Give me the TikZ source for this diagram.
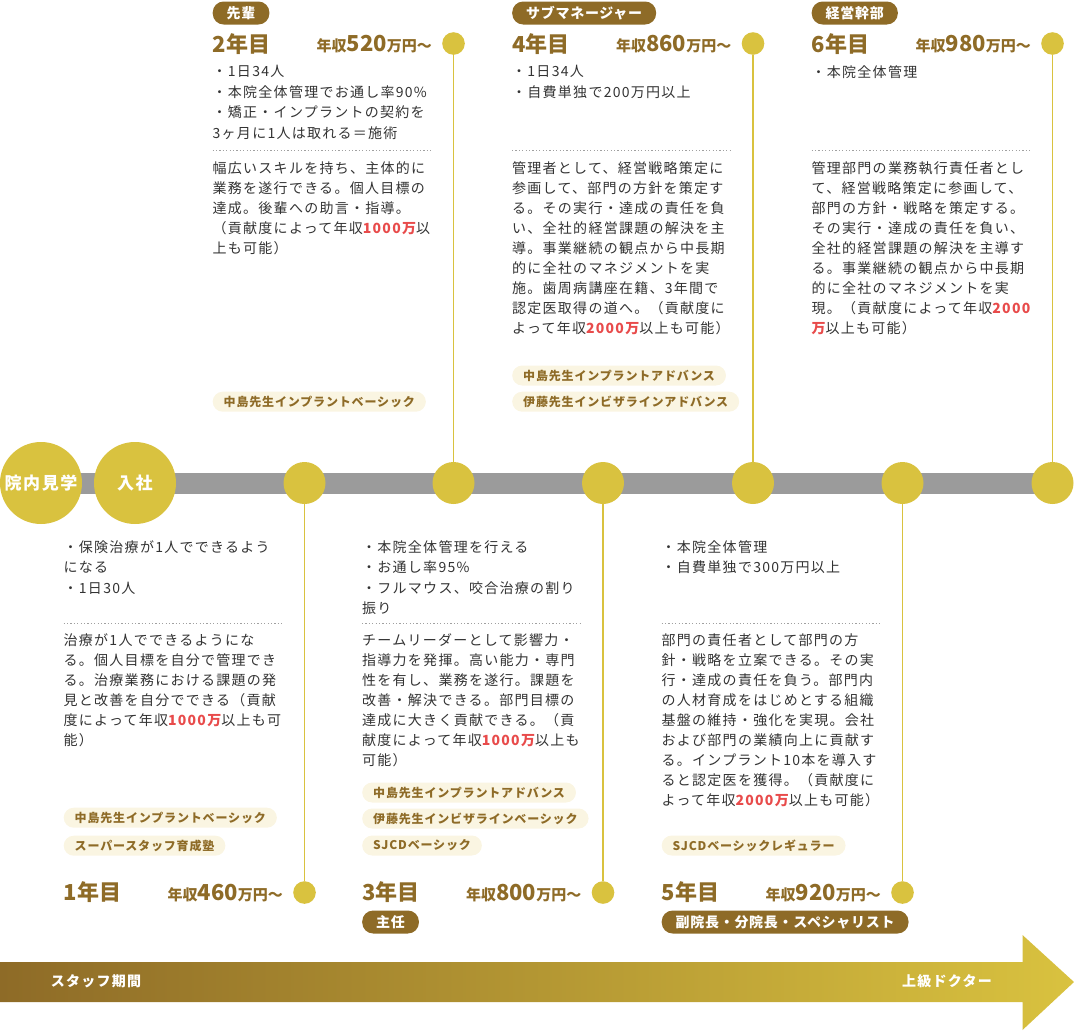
\documentclass[tikz,border=0pt]{standalone}
\usepackage{fontspec}
\setmainfont{Noto Sans CJK JP}[LetterSpace=9]
\newfontfamily\plainjp{Noto Sans CJK JP}
\newfontfamily\rolejp{Noto Sans CJK JP}[LetterSpace=5]
\newfontfamily\coursejp{Noto Sans CJK JP}[LetterSpace=7]
\usetikzlibrary{backgrounds}

\definecolor{goldc}{HTML}{D9C23F}
\definecolor{tagbrown}{HTML}{8E6B27}
\definecolor{creamc}{HTML}{FAF5E2}
\definecolor{inkc}{HTML}{333333}
\definecolor{redc}{HTML}{E84B4B}
\definecolor{trackc}{HTML}{9B9B9B}
\definecolor{rulec}{HTML}{A0A0A0}

\newcommand{\redtext}[1]{{\color{redc}\bfseries #1}}
\newcommand{\bignum}[1]{{\fontsize{22}{22}\selectfont #1}}

\begin{document}
\begin{tikzpicture}[x=1pt, y=-1pt,
  milestone/.style={circle, fill=goldc, minimum size=42pt, inner sep=0pt},
  bigstop/.style={circle, fill=goldc, minimum size=82pt, inner sep=0pt, text=white, font=\bfseries\fontsize{17}{17}\selectfont},
  smalldot/.style={circle, fill=goldc, minimum size=22.6pt, inner sep=0pt},
  stem/.style={goldc, line width=1.5pt},
  track/.style={trackc, line width=21pt},
  yearlabel/.style={anchor=west, inner sep=0pt, text=tagbrown, font=\plainjp\bfseries\fontsize{22}{22}\selectfont},
  salary/.style={anchor=east, inner sep=0pt, text=tagbrown, font=\plainjp\bfseries\fontsize{15}{15}\selectfont},
  rolebox/.style={anchor=west, fill=tagbrown, text=white, rounded corners=11pt, minimum height=23pt, inner xsep=14pt, inner ysep=0pt, font=\rolejp\bfseries\fontsize{14}{14}\selectfont},
  coursebox/.style={anchor=west, fill=creamc, text=tagbrown, rounded corners=10pt, minimum height=20pt, inner xsep=11pt, inner ysep=0pt, font=\coursejp\bfseries\fontsize{12}{12}\selectfont},
  points/.style={anchor=north west, inner sep=0pt, align=left, text=inkc, font=\fontsize{14}{20.5}\selectfont},
  detail/.style={anchor=north west, inner sep=0pt, align=left, text=inkc, font=\fontsize{14}{20}\selectfont},
  dotrule/.style={rulec, line width=1.2pt, dash pattern=on 1.2pt off 2.2pt},
  period/.style={text=white, inner sep=0pt, font=\bfseries\fontsize{14}{14}\selectfont}
]
\useasboundingbox (0,0) rectangle (1074,1031);

% timeline
\node[bigstop] (visit) at (41,483) {院内見学};
\node[bigstop] (join) at (135,483) {入社};
\node[milestone] (m1) at (304.5,483) {};
\node[milestone] (m2) at (453.5,483) {};
\node[milestone] (m3) at (603,483) {};
\node[milestone] (m4) at (753,483) {};
\node[milestone] (m5) at (902.5,483) {};
\node[milestone] (m6) at (1052.5,483) {};
\begin{pgfonlayer}{background}
\draw[track] (visit.center) -- (m6.center);
\end{pgfonlayer}

% upper columns
\node[smalldot] (d2) at (453.5,43.5) {};
\node[smalldot] (d4) at (753,43.5) {};
\node[smalldot] (d6) at (1052.5,43.5) {};
\draw[stem] (d2) -- (m2);
\draw[stem] (d4) -- (m4);
\draw[stem] (d6) -- (m6);

\node[rolebox] (r2) at (212.5,13) {先輩};
\node[rolebox] (r4) at (512,13) {サブマネージャー};
\node[rolebox] (r6) at (811.5,13) {経営幹部};

\node[yearlabel] (y2) at (212.5,44) {2年目};
\node[yearlabel] (y4) at (512,44) {4年目};
\node[yearlabel] (y6) at (811.5,44) {6年目};
\node[salary] (s2) at (432,44.5) {年収\bignum{520}万円～};
\node[salary] (s4) at (731.5,44.5) {年収\bignum{860}万円～};
\node[salary] (s6) at (1031,44.5) {年収\bignum{980}万円～};

\node[points] (p2) at (212.5,65) {・1日34人\\・本院全体管理でお通し率90\%\\・矯正・インプラントの契約を\\3ヶ月に1人は取れる＝施術};
\node[points] (p4) at (512,65) {・1日34人\\・自費単独で200万円以上};
\node[points] (p6) at (811.5,65) {・本院全体管理};

\draw[dotrule] (212.5,150.7) -- (432,150.7);
\draw[dotrule] (512,150.7) -- (731.5,150.7);
\draw[dotrule] (811.5,150.7) -- (1031,150.7);

\node[detail] (t2) at (212.5,161.5) {幅広いスキルを持ち、主体的に\\業務を遂行できる。個人目標の\\達成。後輩への助言・指導。\\（貢献度によって年収\redtext{1000万}以\\上も可能）};
\node[detail] (t4) at (512,161.5) {管理者として、経営戦略策定に\\参画して、部門の方針を策定す\\る。その実行・達成の責任を負\\い、全社的経営課題の解決を主\\導。事業継続の観点から中長期\\的に全社のマネジメントを実\\施。歯周病講座在籍、3年間で\\認定医取得の道へ。（貢献度に\\よって年収\redtext{2000万}以上も可能）};
\node[detail] (t6) at (811.5,161.5) {管理部門の業務執行責任者とし\\て、経営戦略策定に参画して、\\部門の方針・戦略を策定する。\\その実行・達成の責任を負い、\\全社的経営課題の解決を主導す\\る。事業継続の観点から中長期\\的に全社のマネジメントを実\\現。（貢献度によって年収\redtext{2000}\\\redtext{万}以上も可能）};

\node[coursebox] (c2a) at (212.5,401.7) {中島先生インプラントベーシック};
\node[coursebox] (c4a) at (512,375.5) {中島先生インプラントアドバンス};
\node[coursebox] (c4b) at (512,401.7) {伊藤先生インビザラインアドバンス};

% lower columns
\node[smalldot] (d1) at (304.5,892.5) {};
\node[smalldot] (d3) at (603,892.5) {};
\node[smalldot] (d5) at (902.5,892.5) {};
\draw[stem] (m1) -- (d1);
\draw[stem] (m3) -- (d3);
\draw[stem] (m5) -- (d5);

\node[points] (p1) at (63.5,540) {・保険治療が1人でできるよう\\になる\\・1日30人};
\node[points] (p3) at (362,540) {・本院全体管理を行える\\・お通し率95\%\\・フルマウス、咬合治療の割り\\振り};
\node[points] (p5) at (661.5,540) {・本院全体管理\\・自費単独で300万円以上};

\draw[dotrule] (63.5,623.3) -- (283,623.3);
\draw[dotrule] (362,623.3) -- (581.5,623.3);
\draw[dotrule] (661.5,623.3) -- (881,623.3);

\node[detail] (t1) at (63.5,633) {治療が1人でできるようにな\\る。個人目標を自分で管理でき\\る。治療業務における課題の発\\見と改善を自分でできる（貢献\\度によって年収\redtext{1000万}以上も可\\能）};
\node[detail] (t3) at (362,633) {チームリーダーとして影響力・\\指導力を発揮。高い能力・専門\\性を有し、業務を遂行。課題を\\改善・解決できる。部門目標の\\達成に大きく貢献できる。（貢\\献度によって年収\redtext{1000万}以上も\\可能）};
\node[detail] (t5) at (661.5,633) {部門の責任者として部門の方\\針・戦略を立案できる。その実\\行・達成の責任を負う。部門内\\の人材育成をはじめとする組織\\基盤の維持・強化を実現。会社\\および部門の業績向上に貢献す\\る。インプラント10本を導入す\\ると認定医を獲得。（貢献度に\\よって年収\redtext{2000万}以上も可能）};

\node[coursebox] (c1a) at (63.5,817.7) {中島先生インプラントベーシック};
\node[coursebox] (c1b) at (63.5,845.7) {スーパースタッフ育成塾};
\node[coursebox] (c3a) at (362,792.5) {中島先生インプラントアドバンス};
\node[coursebox] (c3b) at (362,818.5) {伊藤先生インビザラインベーシック};
\node[coursebox] (c3c) at (362,845.5) {SJCDベーシック};
\node[coursebox] (c5a) at (661.5,845.5) {SJCDベーシックレギュラー};

\node[yearlabel] (y1) at (63.5,892) {1年目};
\node[yearlabel] (y3) at (362,892) {3年目};
\node[yearlabel] (y5) at (661.5,892) {5年目};
\node[salary] (s1) at (283,893) {年収\bignum{460}万円～};
\node[salary] (s3) at (581.5,893) {年収\bignum{800}万円～};
\node[salary] (s5) at (881,893) {年収\bignum{920}万円～};

\node[rolebox] (r3) at (362,922) {主任};
\node[rolebox] (r5) at (661.5,922) {副院長・分院長・スペシャリスト};

% career arrow
\shade[left color=tagbrown, right color=goldc] (0,962) -- (1022.5,962) -- (1022.5,935) -- (1074,982) -- (1022.5,1030) -- (1022.5,1002) -- (0,1002) -- cycle;
\node[period] (staff) at (96,981) {スタッフ期間};
\node[period] (senior) at (947,981) {上級ドクター};

\end{tikzpicture}
\end{document}
